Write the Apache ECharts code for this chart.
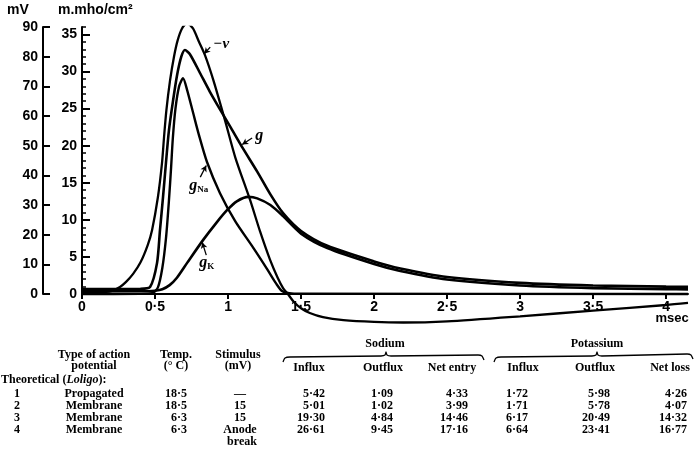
<!DOCTYPE html>
<html><head><meta charset="utf-8">
<script src="https://cdn.jsdelivr.net/npm/echarts@6/dist/echarts.min.js"></script>
<style>html,body{margin:0;padding:0;background:#fff}#c{width:700px;height:450px}</style>
</head><body><div id="c"></div>
<script>
// ---- axis ticks ----
const xTicks = [0, 0.5, 1, 1.5, 2, 2.5, 3, 3.5, 4];
const mhoMajor = [0, 5, 10, 15, 20, 25, 30, 35];
const mhoMinor = [0,1,2,3,4,5,6,7,8,9,10,11,12,13,14,15,16,17,18,19,20,21,22,23,24,25,26,27,28,29,30,31,32,33,34,35,36];

// ---- curves: [msec, value] ----
const negV = [[0,0.4],[0.1,0.5],[0.2,1.0],[0.26,2.4],[0.3,4],[0.35,6.8],[0.4,10.6],[0.45,16.5],[0.48,21.6],[0.52,32.7],[0.548,44.2],[0.562,53],[0.578,62],[0.603,72],[0.63,80],[0.655,85.5],[0.685,89.5],[0.719,91.3],[0.76,89.5],[0.801,85],[0.842,80.5],[0.9,72],[0.979,58.6],[1.05,46],[1.151,31.7],[1.22,21],[1.288,11.5],[1.34,5.5],[1.377,2.0],[1.41,0],[1.45,-2.6],[1.5,-4.8],[1.56,-6.4],[1.65,-7.8],[1.79,-8.8],[2.0,-9.4],[2.2,-9.6],[2.5,-9.2],[3.0,-7.5],[3.5,-5.6],[4.0,-3.7],[4.15,-3.0]];
const gTotal = [[0,0.68],[0.4,0.7],[0.466,0.94],[0.514,4.2],[0.534,8.6],[0.555,13.1],[0.575,17.7],[0.595,22],[0.623,26],[0.651,29.5],[0.68,32],[0.705,32.9],[0.74,32.3],[0.808,29.8],[0.875,27.3],[0.945,24.9],[1.02,22.4],[1.1,19.7],[1.2,16.5],[1.288,13.5],[1.377,10.9],[1.5,8.5],[1.68,6.5],[2.0,4.4],[2.18,3.45],[2.5,2.3],[3.0,1.5],[3.5,1.15],[4.0,1.0],[4.15,0.98]];
const gNa = [[0,0.01],[0.4,0.02],[0.48,0.1],[0.52,0.9],[0.55,3.5],[0.575,7.5],[0.595,12.5],[0.61,17],[0.622,21],[0.64,25],[0.665,28],[0.692,29.1],[0.72,27.5],[0.76,24.5],[0.8,21.5],[0.856,17.8],[0.945,13.6],[1.05,9.8],[1.171,6.3],[1.27,3.3],[1.33,1.4],[1.37,0.4],[1.42,0.1],[1.5,0.03],[4.15,0.01]];
const gK = [[0,0.37],[0.45,0.38],[0.5,0.45],[0.55,0.65],[0.6,1.2],[0.65,2.2],[0.72,4.2],[0.83,7.3],[0.92,9.6],[0.993,11.3],[1.06,12.5],[1.14,13.1],[1.2,12.9],[1.29,12.0],[1.377,10.5],[1.5,8.15],[1.68,6.2],[2.0,4.05],[2.18,3.1],[2.5,1.95],[3.0,1.15],[3.5,0.8],[4.0,0.65],[4.15,0.63]];

// ---- table ----
const rowNums = ['1', '2', '3', '4'];
const actionTypes = ['Propagated', 'Membrane', 'Membrane', 'Membrane'];
const temps = ['18·5', '18·5', '6·3', '6·3'];
const stimuli = ['—', '15', '15', 'Anode'];
const naInflux = ['5·42', '5·01', '19·30', '26·61'];
const naOutflux = ['1·09', '1·02', '4·84', '9·45'];
const naNet = ['4·33', '3·99', '14·46', '17·16'];
const kInflux = ['1·72', '1·71', '6·17', '6·64'];
const kOutflux = ['5·98', '5·78', '20·49', '23·41'];
const kNet = ['4·26', '4·07', '14·32', '16·77'];

const chart = echarts.init(document.getElementById('c'), null, {renderer: 'canvas'});
const fmt = v => String(v).replace('.', '·');
const black = '#000';
const axisFont = {color: black, fontWeight: 'bold', fontSize: 14, fontFamily: 'Liberation Sans'};
const tFont = 'bold 12px "Liberation Serif"';

const graphics = [];
function txt(x, y, s, align, font) {
  graphics.push({type: 'text', x: x, y: y, silent: true,
    style: {text: s, font: font || tFont, fill: black, textAlign: align || 'center', textVerticalAlign: 'middle'}});
}
txt(18, 10, 'mV', 'center', 'bold 14px "Liberation Sans"');
txt(58, 10, 'm.mho/cm²', 'left', 'bold 14px "Liberation Sans"');
txt(672, 318, 'msec', 'center', 'bold 13px "Liberation Sans"');
// header
txt(94, 355, 'Type of action'); txt(94, 366, 'potential');
txt(176, 355, 'Temp.'); txt(176, 366, '(° C)');
txt(238, 355, 'Stimulus'); txt(238, 366, '(mV)');
txt(385, 344, 'Sodium'); txt(597, 344, 'Potassium');
txt(309, 368, 'Influx'); txt(383, 368, 'Outflux'); txt(452, 368, 'Net entry');
txt(523, 368, 'Influx'); txt(595, 368, 'Outflux'); txt(670, 368, 'Net loss');
graphics.push({type: 'text', x: 1, y: 380, silent: true,
  style: {text: '{n|Theoretical (}{i|Loligo}{n|):}', textAlign: 'left', textVerticalAlign: 'middle',
    rich: {n: {font: tFont, fill: black}, i: {font: 'italic bold 12px "Liberation Serif"', fill: black}}}});
const rowY = [394, 406, 418, 430];
rowNums.forEach((v, i) => {
  const y = rowY[i];
  txt(17, y, v);
  txt(94, y, actionTypes[i]);
  txt(187, y, temps[i], 'right');
  txt(240, y, stimuli[i]);
  txt(325, y, naInflux[i], 'right');
  txt(393, y, naOutflux[i], 'right');
  txt(468, y, naNet[i], 'right');
  txt(528, y, kInflux[i], 'right');
  txt(610, y, kOutflux[i], 'right');
  txt(687, y, kNet[i], 'right');
});
txt(242, 442, 'break');
graphics.push({type: 'polyline', silent: true, shape: {points: [[283,362],[285,358],[290,357],[381,356],[385,355],[386,352],[387,355],[391,356],[478,355],[482,356],[484,360]], smooth: 0.2}, style: {stroke: black, lineWidth: 1.3, fill: null}});
graphics.push({type: 'polyline', silent: true, shape: {points: [[494,362],[496,358],[501,357],[592,356],[596,355],[597,352],[598,355],[602,356],[687,354],[691,355],[693,359]], smooth: 0.2}, style: {stroke: black, lineWidth: 1.3, fill: null}});

function curve(name, data, yIdx, w) {
  return {name: name, type: 'line', xAxisIndex: 1, yAxisIndex: yIdx, data: data, showSymbol: false, symbol: 'none',
    smooth: 0.25, lineStyle: {color: black, width: w}, silent: true, z: 3};
}
const arrow = (a, b) => [{coord: a}, {coord: b}];
const vSeries = curve('-V', negV, 3, 2.3);
vSeries.markLine = {silent: true, symbol: ['none', 'arrow'], symbolSize: [5, 6], animation: false,
  lineStyle: {color: black, width: 1.3, type: 'solid'}, label: {show: false},
  data: [arrow([0.878, 83.2], [0.837, 81.0]), arrow([1.165, 52.6], [1.097, 50.4]),
         arrow([0.810, 39.4], [0.851, 43.3]), arrow([0.851, 13.1], [0.824, 17.4])]};
const lblFont = {color: black, fontFamily: 'Liberation Serif', fontStyle: 'italic', fontWeight: 'bold'};
vSeries.markPoint = {silent: true, symbol: 'circle', symbolSize: 0, animation: false,
  data: [
    {coord: [0.953, 84.2], label: {show: true, formatter: '−v', fontSize: 15, ...lblFont}},
    {coord: [1.213, 53.2], label: {show: true, formatter: 'g', fontSize: 16, ...lblFont}},
    {coord: [0.80, 36.4], label: {show: true, formatter: '{a|g}{b|Na}', rich: {a: {fontSize: 16, ...lblFont}, b: {fontSize: 9, ...lblFont, fontStyle: 'normal', padding: [7, 0, 0, 0]}}}},
    {coord: [0.855, 10.4], label: {show: true, formatter: '{a|g}{b|K}', rich: {a: {fontSize: 16, ...lblFont}, b: {fontSize: 9, ...lblFont, fontStyle: 'normal', padding: [7, 0, 0, 0]}}}}
  ]};

const option = {
  animation: false,
  backgroundColor: '#fff',
  grid: [{left: 82, right: 12, top: 27, height: 267}, {left: 82, right: 12, top: 27, height: 296.7}],
  xAxis: [
    {gridIndex: 0, type: 'value', min: 0, max: 4.15, interval: 0.5,
     axisLine: {onZero: false, lineStyle: {color: black, width: 2}},
     axisTick: {show: true, length: 5, customValues: xTicks, lineStyle: {color: black, width: 2}},
     axisLabel: {customValues: xTicks, formatter: v => fmt(v), margin: 6, ...axisFont},
     splitLine: {show: false}},
    {gridIndex: 1, type: 'value', min: 0, max: 4.15, show: false}
  ],
  yAxis: [
    {gridIndex: 0, type: 'value', position: 'left', offset: 39, min: 0, max: 90, interval: 10,
     axisLine: {show: true, onZero: false, lineStyle: {color: black, width: 2}},
     axisTick: {show: true, inside: true, length: 7, lineStyle: {color: black, width: 2}},
     axisLabel: {margin: 5, ...axisFont}, splitLine: {show: false}},
    {gridIndex: 0, type: 'value', position: 'left', offset: 0, min: 0, max: 36, interval: 5,
     axisLine: {show: true, onZero: false, lineStyle: {color: black, width: 2}},
     axisTick: {show: true, inside: true, length: 8, customValues: mhoMajor, lineStyle: {color: black, width: 2}},
     axisLabel: {margin: 5, customValues: mhoMajor, ...axisFont}, splitLine: {show: false}},
    {gridIndex: 0, type: 'value', position: 'left', offset: 0, min: 0, max: 36, interval: 1,
     axisLine: {show: false, onZero: false},
     axisTick: {show: true, inside: true, length: 4, customValues: mhoMinor, lineStyle: {color: black, width: 1.5}},
     axisLabel: {show: false}, splitLine: {show: false}},
    {gridIndex: 1, type: 'value', min: -10, max: 90, show: false, axisLine: {onZero: false}},
    {gridIndex: 1, type: 'value', min: -4, max: 36, show: false, axisLine: {onZero: false}}
  ],
  series: [
    vSeries,
    curve('g', gTotal, 4, 2.6),
    curve('gNa', gNa, 4, 2.4),
    curve('gK', gK, 4, 2.6)
  ],
  graphic: graphics
};
chart.setOption(option);
</script>
</body></html>
